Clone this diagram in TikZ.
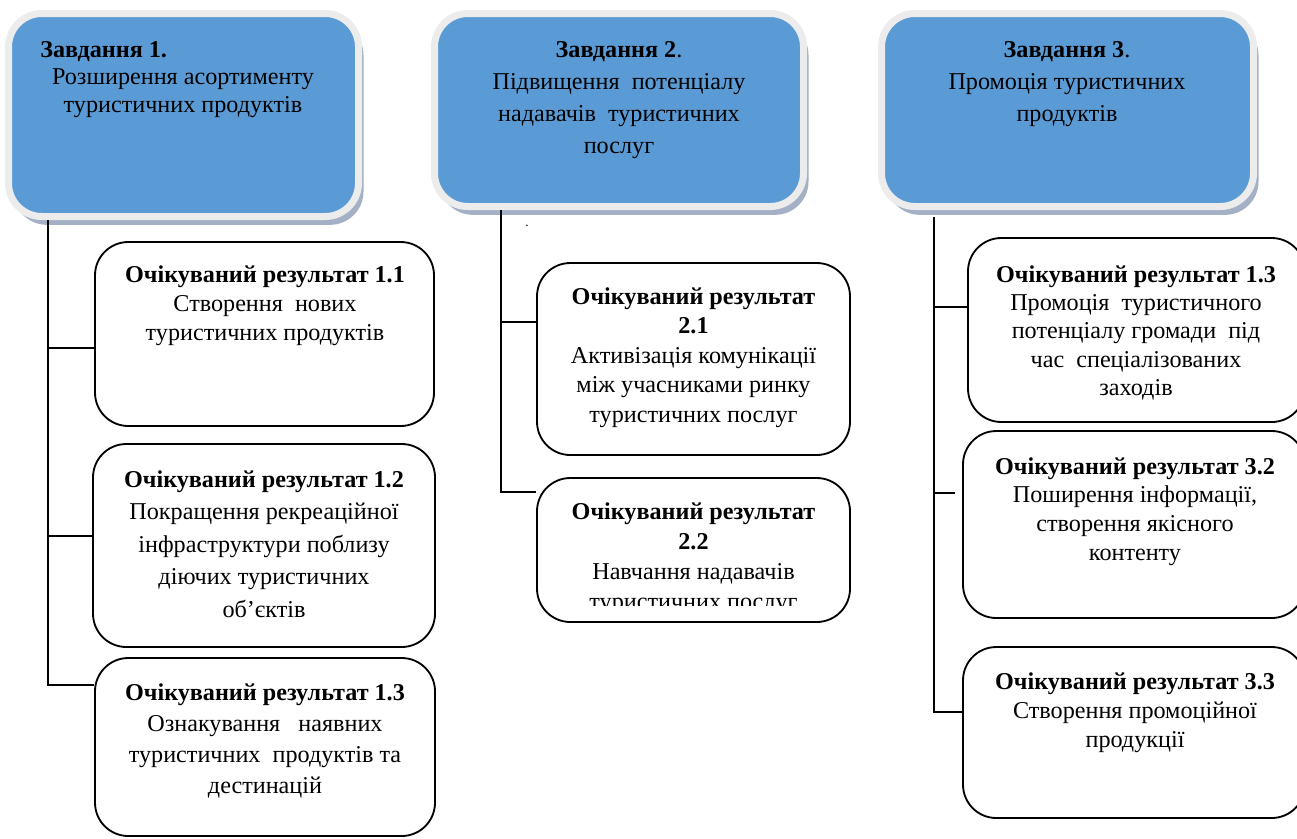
\documentclass[tikz,border=0pt]{standalone}
\usepackage{fontspec}
\setmainfont{Liberation Serif}
\usetikzlibrary{shadows}
\definecolor{taskblue}{RGB}{91,155,213}
\definecolor{taskrim}{RGB}{236,236,236}
\definecolor{taskshade}{RGB}{140,156,182}

\begin{document}
\begin{tikzpicture}[
    x=0.6pt, y=-0.6pt,
    taskbox/.style={rectangle, rounded corners=20pt, draw=taskrim, line width=4.2pt, fill=taskblue, drop shadow={shadow xshift=3pt, shadow yshift=-5pt, fill=taskshade, opacity=0.8}},
    resultbox/.style={rectangle, rounded corners=20pt, draw=black, line width=1.1pt, fill=white},
    tasktext/.style={anchor=north, align=center, inner sep=0pt, font=\fontsize{14.5}{19.2}\selectfont},
    resulttext/.style={anchor=north, align=center, inner sep=0pt, font=\fontsize{14.5}{17.4}\selectfont},
    link/.style={draw=black, line width=1pt}
]
\useasboundingbox (0,0) rectangle (1297,838);
\clip (0,0) rectangle (1297,838);

% Завдання
\node[taskbox, minimum width=210pt, minimum height=121.8pt] (task1) at (183.5,115) {};
\node[tasktext, anchor=north west, align=left] (task1title) at (40,41) {\textbf{Завдання 1.}};
\node[tasktext, font=\fontsize{14.5}{16.8}\selectfont] (task1text) at (183,68) {Розширення асортименту\\туристичних продуктів};

\node[taskbox, minimum width=221.4pt, minimum height=115.8pt] (task2) at (619,110) {};
\node[tasktext] (task2text) at (619,41) {\textbf{Завдання 2}.\\Підвищення~ потенціалу\\надавачів~ туристичних\\послуг};

\node[taskbox, minimum width=223.2pt, minimum height=115.8pt] (task3) at (1067.5,110) {};
\node[tasktext] (task3text) at (1067,41) {\textbf{Завдання 3}.\\Промоція туристичних\\продуктів};

% Очікувані результати
\node[resultbox, minimum width=203.4pt, minimum height=110.4pt] (res11) at (264.5,334) {};
\node[resultbox, minimum width=205.2pt, minimum height=121.8pt] (res12) at (264,545.5) {};
\node[resultbox, minimum width=204pt, minimum height=106.8pt] (res13) at (265,747) {};
\node[resultbox, minimum width=187.8pt, minimum height=115.2pt] (res21) at (693.5,359) {};
\node[resultbox, minimum width=187.8pt, minimum height=86.4pt] (res22) at (693.5,550) {};
\node[resultbox, minimum width=202.2pt, minimum height=110.4pt] (res31) at (1136.5,330) {};
\node[resultbox, minimum width=205.2pt, minimum height=112.2pt] (res32) at (1134,524.5) {};
\node[resultbox, minimum width=205.2pt, minimum height=102.6pt] (res33) at (1134,732.5) {};

\node[resulttext] (res11text) at (265,265) {\textbf{Очікуваний результат 1.1}\\Створення~ нових\\туристичних продуктів};
\node[resulttext, font=\fontsize{14.5}{19.5}\selectfont] (res12text) at (264,470) {\textbf{Очікуваний результат 1.2}\\Покращення рекреаційної\\інфраструктури поблизу\\діючих туристичних\\об’єктів};
\node[resulttext, font=\fontsize{14.5}{18.6}\selectfont] (res13text) at (265,683) {\textbf{Очікуваний результат 1.3}\\Ознакування~~ наявних\\туристичних~ продуктів та\\дестинацій};
\node[resulttext, font=\fontsize{14.5}{17.7}\selectfont] (res21text) at (693.5,287) {\textbf{Очікуваний результат}\\\textbf{2.1}\\Активізація комунікації\\між учасниками ринку\\туристичних послуг};
\begin{scope}
\clip (537,478) rectangle (850,605);
\node[resulttext, font=\fontsize{14.5}{18}\selectfont] (res22text) at (693.5,502) {\textbf{Очікуваний результат}\\\textbf{2.2}\\Навчання надавачів\\туристичних послуг};
\end{scope}
\node[resulttext, font=\fontsize{14.5}{17}\selectfont] (res31text) at (1136,265) {\textbf{Очікуваний результат 1.3}\\Промоція~ туристичного\\потенціалу громади~ під\\час~ спеціалізованих\\заходів};
\node[resulttext, font=\fontsize{14.5}{17.2}\selectfont] (res32text) at (1135,457) {\textbf{Очікуваний результат 3.2}\\Поширення інформації,\\створення якісного\\контенту};
\node[resulttext] (res33text) at (1135,672) {\textbf{Очікуваний результат 3.3}\\Створення промоційної\\продукції};

\node[inner sep=0pt, font=\fontsize{8}{8}\selectfont] (stray) at (527,226) {.};

% Зв'язки
\coordinate (fork11) at (48,348);
\coordinate (fork12) at (48,536);
\coordinate (fork13) at (48,685);
\draw[link] (task1.south -| fork11) -- (fork13) -- (fork13 -| res13.west);
\draw[link] (fork11) -- (fork11 -| res11.west);
\draw[link] (fork12) -- (fork12 -| res12.west);

\coordinate (fork21) at (501,322);
\coordinate (fork22) at (501,492);
\draw[link] (task2.south -| fork21) -- (fork22) -- (fork22 -| res22.west);
\draw[link] (fork21) -- (fork21 -| res21.west);

\coordinate (top3) at (934,217);
\coordinate (fork31) at (934,307);
\coordinate (fork32) at (934,493);
\coordinate (fork33) at (934,712);
\coordinate (end32) at (955,493);
\draw[link] (top3) -- (fork33) -- (fork33 -| res33.west);
\draw[link] (fork31) -- (fork31 -| res31.west);
\draw[link] (fork32) -- (end32);

\end{tikzpicture}
\end{document}
